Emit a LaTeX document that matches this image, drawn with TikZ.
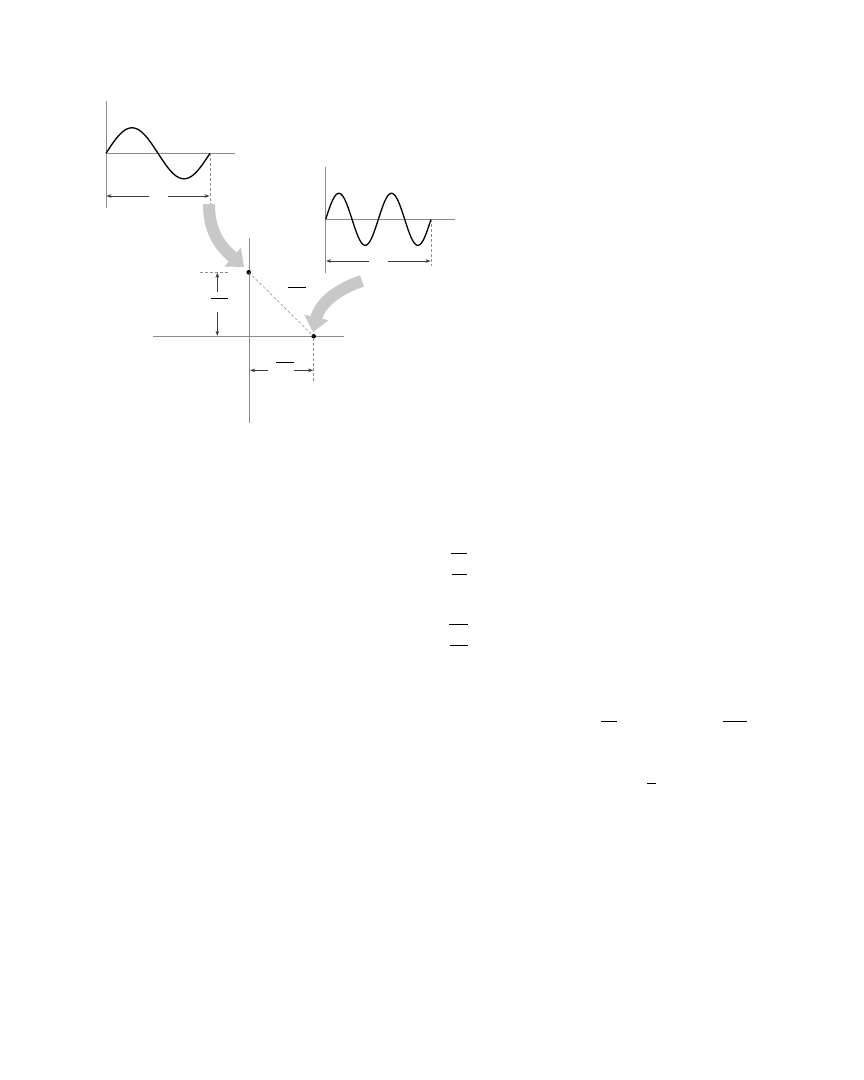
\documentclass[tikz,border=0pt]{standalone}
\usetikzlibrary{arrows.meta}
\definecolor{axisgray}{RGB}{140,140,140}
\definecolor{dimgray}{RGB}{60,60,60}
\definecolor{bigarrow}{RGB}{200,200,200}
\tikzset{
  axis/.style={draw=axisgray, line width=0.6pt},
  wave/.style={draw=black, line width=1.3pt, line join=round},
  dimarrow/.style={draw=dimgray, line width=0.5pt, -{Stealth[length=5pt,width=3.6pt]}},
  guide/.style={draw=axisgray, line width=0.5pt, dash pattern=on 3pt off 2pt},
  fracbar/.style={draw=black, line width=0.9pt},
  bendarrow/.style={draw=bigarrow, line width=12pt, -{Triangle[length=15pt,width=24pt]}},
  dot/.style={circle, fill=black, inner sep=0pt, minimum size=4.5pt}
}
\begin{document}
\begin{tikzpicture}[x=1pt,y=-1pt]
\useasboundingbox (0,0) rectangle (864,1080);
% ---------- panel 1 ----------
\coordinate (p1top) at (106,101);
\coordinate (p1bot) at (106,208);
\coordinate (p1o) at (106,153.3);
\coordinate (p1r) at (235,153.3);
\coordinate (p1e) at (210,153.3);
\coordinate (p1d) at (210,214);
\draw[axis] (p1top) -- (p1bot);
\draw[axis] (p1o) -- (p1r);
\draw[wave] plot[domain=0:360, samples=90, smooth] ({106+0.28889*\x},{153.3-25.5*sin(\x)});
\draw[guide] (p1e) -- (p1d);
\coordinate (d1a) at (149,196); \coordinate (d1l) at (106.5,196);
\coordinate (d1b) at (168,196); \coordinate (d1r) at (209.5,196);
\draw[dimarrow] (d1a) -- (d1l);
\draw[dimarrow] (d1b) -- (d1r);
% ---------- panel 2 ----------
\coordinate (p2top) at (325.7,167);
\coordinate (p2bot) at (325.7,273);
\coordinate (p2o) at (325.7,219.3);
\coordinate (p2r) at (455,219.3);
\coordinate (p2e) at (431,219.3);
\coordinate (p2d) at (431,266);
\draw[axis] (p2top) -- (p2bot);
\draw[axis] (p2o) -- (p2r);
\draw[wave] plot[domain=0:720, samples=160, smooth] ({325.7+0.14625*\x},{219.3-26*sin(\x)});
\draw[guide] (p2e) -- (p2d);
\coordinate (d2a) at (369,261); \coordinate (d2l) at (326.2,261);
\coordinate (d2b) at (388,261); \coordinate (d2r) at (430.5,261);
\draw[dimarrow] (d2a) -- (d2l);
\draw[dimarrow] (d2b) -- (d2r);
% ---------- panel 3 ----------
\coordinate (p3top) at (249.7,238);
\coordinate (p3bot) at (249.7,423);
\coordinate (p3l) at (153,336.3);
\coordinate (p3r) at (344,336.3);
\draw[axis] (p3top) -- (p3bot);
\draw[axis] (p3l) -- (p3r);
\node[dot] (A) at (248.7,272.3) {};
\node[dot] (B) at (313.7,336.3) {};
\draw[guide] (A.center) -- (B.center);
\coordinate (ga) at (200,272.3); \coordinate (gb) at (228,272.3);
\draw[guide] (ga) -- (gb);
\coordinate (gc) at (313.7,338); \coordinate (gd) at (313.7,383);
\draw[guide] (gc) -- (gd);
% vertical dimension
\coordinate (v1) at (217.3,292); \coordinate (v1t) at (217.3,272.8);
\coordinate (v2) at (217.3,312); \coordinate (v2t) at (217.3,335.8);
\draw[dimarrow] (v1) -- (v1t);
\draw[dimarrow] (v2) -- (v2t);
% horizontal dimension
\coordinate (h1) at (268,370.3); \coordinate (h1t) at (250.2,370.3);
\coordinate (h2) at (294,370.3); \coordinate (h2t) at (313.2,370.3);
\draw[dimarrow] (h1) -- (h1t);
\draw[dimarrow] (h2) -- (h2t);
% fraction bars in panel 3
\draw[fracbar] (211,298.3) -- (228,298.3);
\draw[fracbar] (287.7,287.3) -- (305.7,287.3);
\draw[fracbar] (276,362.3) -- (294,362.3);
% ---------- big curved arrows ----------
\coordinate (c1s) at (209,204);
\coordinate (c1e) at (244,267);
\draw[bendarrow] (c1s) .. controls (209,232) and (220,246) .. (c1e);
\coordinate (c2s) at (362,281);
\coordinate (c2e) at (313,332);
\draw[bendarrow] (c2s) .. controls (340,288) and (320,302) .. (c2e);
% ---------- fraction bars of the text below ----------
\draw[fracbar] (451,553.3) -- (466.7,553.3);
\draw[fracbar] (452,574) -- (466.7,574);
\draw[fracbar] (449,624.3) -- (467.7,624.3);
\draw[fracbar] (450,645.3) -- (467.7,645.3);
\draw[fracbar] (601,721) -- (616.7,721);
\draw[fracbar] (723.3,721) -- (746.7,721);
\draw[fracbar] (647.3,783) -- (656,783);
\end{tikzpicture}
\end{document}
